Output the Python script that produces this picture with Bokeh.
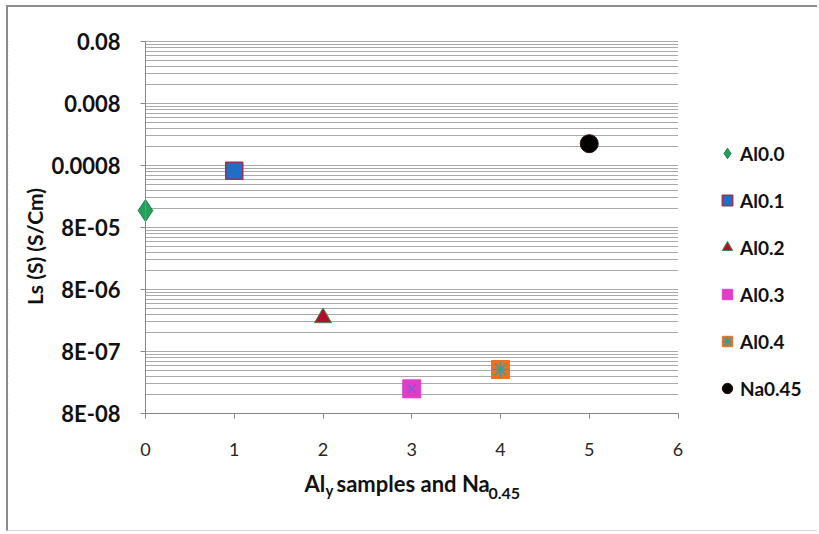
import math
from bokeh.plotting import figure
from bokeh.models import Range1d, FixedTicker, CustomJSTickFormatter, Legend, LegendItem, Label, BoxAnnotation
from bokeh.embed import file_html
from bokeh.resources import INLINE

# ---- data ----
series_names = ["Al0.0", "Al0.1", "Al0.2", "Al0.3", "Al0.4", "Na0.45"]
x_values = [0, 1, 2, 3, 4, 5]
y_values = [1.5e-4, 6.6e-4, 2.8e-6, 2.0e-7, 4.1e-7, 1.8e-3]
y_ticks = [8e-8, 8e-7, 8e-6, 8e-5, 8e-4, 8e-3, 8e-2]
y_tick_labels = ["8E-08", "8E-07", "8E-06", "8E-05", "0.0008", "0.008", "0.08"]
x_ticks = [0, 1, 2, 3, 4, 5, 6]

FONT = "Lato"
GRID = "#a9a9a9"
AX = "#868686"

# ---- layout (pixels) ----
W, H = 811, 526          # canvas size
CX, CY = 8, 7            # canvas offset on page (CSS margin + border)
AX_L, AX_R = 145, 677.5  # page x of x=0 and x=6
AX_T, AX_B = 41, 413     # page y of top and bottom y ticks
ux = (AX_R - AX_L) / (x_ticks[-1] - x_ticks[0])
dec = (AX_B - AX_T) / (math.log10(y_ticks[-1]) - math.log10(y_ticks[0]))
x0 = x_ticks[0] - (AX_L - CX) / ux
x1 = x_ticks[0] + (CX + W - AX_L) / ux
ly_top = math.log10(y_ticks[-1]) + (AX_T - CY) / dec
ly_bot = math.log10(y_ticks[0]) - (CY + H - AX_B) / dec

p = figure(width=W, height=H,
           x_range=Range1d(x0, x1), y_range=Range1d(10 ** ly_bot, 10 ** ly_top),
           y_axis_type="log", output_backend="svg", toolbar_location=None,
           min_border=0)
p.title.visible = False
p.styles = {"margin-left": "6px", "margin-top": "5px",
            "border-left": "2px solid #8c8c8c", "border-top": "2px solid #8c8c8c",
            "border-bottom": "1px solid #d8d8d8"}
p.outline_line_color = None
p.background_fill_color = "white"
p.border_fill_color = "white"

# grid
p.xgrid.visible = False
minor = [t * k for t in y_ticks[:-1] for k in range(2, 10)]
p.yaxis.ticker = FixedTicker(ticks=y_ticks, minor_ticks=minor)
p.ygrid.grid_line_color = GRID
p.ygrid.minor_grid_line_color = GRID
p.ygrid.grid_line_width = 1
p.ygrid.minor_grid_line_width = 1
# limit the grid to the plot area (0..6)
p.add_layout(BoxAnnotation(right=x_ticks[0], fill_color="white", fill_alpha=1.0,
                           line_color=None, level="underlay"))
p.add_layout(BoxAnnotation(left=x_ticks[-1], fill_color="white", fill_alpha=1.0,
                           line_color=None, level="underlay"))

p.yaxis.fixed_location = x_ticks[0]
p.yaxis.bounds = (y_ticks[0], y_ticks[-1])
p.yaxis.formatter = CustomJSTickFormatter(
    args=dict(tv=y_ticks, labels=y_tick_labels),
    code="""
for (let i = 0; i < tv.length; i++) {
  if (Math.abs(Math.log10(tv[i]) - Math.log10(tick)) < 1e-6) return labels[i];
}
return "";
""")
p.yaxis.axis_line_color = AX
p.yaxis.major_tick_line_color = AX
p.yaxis.major_tick_out = 5
p.yaxis.major_tick_in = 0
p.yaxis.minor_tick_line_color = None
p.yaxis.major_label_text_font = FONT
p.yaxis.major_label_text_font_style = "bold"
p.yaxis.major_label_text_font_size = "22px"
p.yaxis.major_label_text_color = "#111111"
p.yaxis.major_label_standoff = 20

p.xaxis.ticker = FixedTicker(ticks=x_ticks)
p.xaxis.fixed_location = y_ticks[0]
p.xaxis.bounds = (x_ticks[0], x_ticks[-1])
p.xaxis.axis_line_color = AX
p.xaxis.major_tick_line_color = AX
p.xaxis.major_tick_out = 5
p.xaxis.major_tick_in = 0
p.xaxis.minor_tick_line_color = None
p.xaxis.major_label_text_font = FONT
p.xaxis.major_label_text_font_size = "18px"
p.xaxis.major_label_text_color = "#262626"
p.xaxis.major_label_standoff = 24

# ---- markers ----
r0 = p.scatter(x=[x_values[0]], y=[y_values[0]], marker="diamond", size=22,
               fill_color="#22a05c", line_color="#1d7f4c", line_width=1)
r1 = p.scatter(x=[x_values[1]], y=[y_values[1]], marker="square", size=17,
               fill_color="#1f6fc6", line_color="#a02c5c", line_width=1.5)
r2 = p.scatter(x=[x_values[2]], y=[y_values[2]], marker="triangle", size=17,
               fill_color="#b0102c", line_color="#3d8c4c", line_width=1)
r3a = p.scatter(x=[x_values[3]], y=[y_values[3]], marker="square", size=18,
                fill_color="#e03ec8", line_color="#e03ec8", line_width=1)
r3b = p.scatter(x=[x_values[3]], y=[y_values[3]], marker="x", size=12,
                line_color="#7a5ad6", line_width=1.5)
r4a = p.scatter(x=[x_values[4]], y=[y_values[4]], marker="square", size=18,
                fill_color="#f0701e", line_color="#f0701e", line_width=1)
r4b = p.scatter(x=[x_values[4]], y=[y_values[4]], marker="asterisk", size=16,
                line_color="#2ea0a0", line_width=1.5)
r5 = p.scatter(x=[x_values[5]], y=[y_values[5]], marker="circle", size=18,
               fill_color="black", line_color="#300808", line_width=1)

rend = [[r0], [r1], [r2], [r3a], [r4a, r4b], [r5]]
items = [LegendItem(label=n, renderers=r) for n, r in zip(series_names, rend)]
legend = Legend(items=items, location=(714 - CX, CY + H - 403), orientation="vertical",
                label_text_font=FONT, label_text_font_style="bold",
                label_text_font_size="19px", label_text_color="#111111",
                glyph_width=26, glyph_height=30, label_height=30,
                spacing=17, padding=0, margin=0, label_standoff=0,
                border_line_color=None, background_fill_alpha=0)
p.add_layout(legend)

# ---- axis titles (text with subscripts) ----
def lab(px, py, text, size, angle=0.0, align="left", baseline="alphabetic"):
    l = Label(x=px - CX, y=CY + H - py, x_units="screen", y_units="screen", text=text,
              text_font=FONT, text_font_style="bold", text_font_size=size,
              text_color="#111111", angle=angle, text_align=align,
              text_baseline=baseline)
    p.add_layout(l)

lab(304, 483, "Al", "22px")
lab(325, 489, "y", "15px")
lab(336, 483, "samples and Na", "22px")
lab(488, 493, "0.45", "16px")
lab(34, 246, "Ls (S) (S/Cm)", "21px", angle=math.pi / 2, align="center", baseline="middle")

open("out.html", "w").write(file_html(p, INLINE))
